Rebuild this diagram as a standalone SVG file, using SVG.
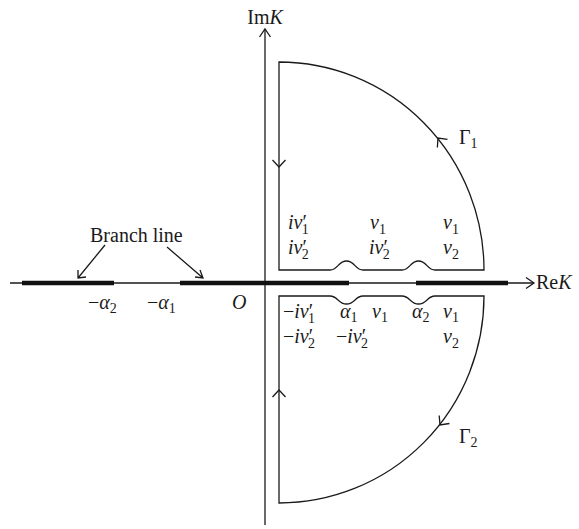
<svg xmlns="http://www.w3.org/2000/svg" width="579" height="529" viewBox="0 0 579 529">
<style>
.t{font-family:"Liberation Serif","DejaVu Serif",serif;font-size:20px;fill:#1a1a1a}
.i{font-style:italic}
.s{font-size:14px;font-style:normal}
.ln{fill:none;stroke:#1a1a1a;stroke-width:1.3}
.thick{fill:none;stroke:#111;stroke-width:4.5}
</style>
<defs>
<path id="chev" d="M-6.5,-7 L0,0 L6.5,-7" fill="none" stroke="#1a1a1a" stroke-width="1.3"/>
</defs>
<g id="connectors">
<path class="ln" d="M10,283 H534"/>
<path class="ln" d="M526,277.5 L534,283 L526,288.5"/>
<path class="ln" d="M265,525 V29"/>
<path class="ln" d="M259.5,37 L265,29 L270.5,37"/>
<path class="thick" d="M22,283 H114 M180,283 H349 M416,283 H508"/>
<path class="ln" d="M105,245 L78,278 M78,270 L78,278 L86,277"/>
<path class="ln" d="M167,247 L203,278 M195,277 L203,278 L200,270"/>
</g>
<g id="contour1">
<path class="ln" d="M279,62 A205,208 0 0 1 484,270 H435 C427,270 427,261 418.5,261 C410,261 410,270 402,270 H363 C355,270 355,261 346.5,261 C338,261 338,270 330,270 H279 Z"/>
<use href="#chev" transform="translate(279,167)"/>
<use href="#chev" transform="translate(438,138) rotate(141)"/>
</g>
<g id="contour2">
<path class="ln" d="M279,296 H330 C338,296 338,304 346.5,304 C355,304 355,296 363,296 H402 C410,296 410,304 418.5,304 C427,304 427,296 435,296 H484 A205,207 0 0 1 279,503 Z"/>
<use href="#chev" transform="translate(279,390) rotate(180)"/>
<use href="#chev" transform="translate(440,425) rotate(38)"/>
</g>
<g id="labels">
<text class="t" x="265" y="24" text-anchor="middle">Im<tspan class="i">K</tspan></text>
<text class="t" x="536" y="289">Re<tspan class="i">K</tspan></text>
<text class="t" x="90" y="242">Branch line</text>
<text class="t" x="88" y="309">−<tspan class="i">α</tspan><tspan class="s" dy="4">2</tspan></text>
<text class="t" x="147" y="309">−<tspan class="i">α</tspan><tspan class="s" dy="4">1</tspan></text>
<text class="t i" x="232" y="309">O</text>
<text class="t" x="459" y="144">Γ<tspan class="s" dy="4">1</tspan></text>
<text class="t" x="459" y="443">Γ<tspan class="s" dy="4">2</tspan></text>
<text class="t" x="288" y="229"><tspan class="i">iv</tspan>′<tspan class="s" dx="-5" dy="5">1</tspan></text>
<text class="t" x="370" y="229"><tspan class="i">v</tspan><tspan class="s" dy="5">1</tspan></text>
<text class="t" x="443" y="229"><tspan class="i">v</tspan><tspan class="s" dy="5">1</tspan></text>
<text class="t" x="288" y="254"><tspan class="i">iv</tspan>′<tspan class="s" dx="-5" dy="5">2</tspan></text>
<text class="t" x="369" y="254"><tspan class="i">iv</tspan>′<tspan class="s" dx="-5" dy="5">2</tspan></text>
<text class="t" x="443" y="254"><tspan class="i">v</tspan><tspan class="s" dy="5">2</tspan></text>
<text class="t" x="283" y="318">−<tspan class="i">iv</tspan>′<tspan class="s" dx="-5" dy="5">1</tspan></text>
<text class="t" x="340" y="318"><tspan class="i">α</tspan><tspan class="s" dy="4">1</tspan></text>
<text class="t" x="372" y="318"><tspan class="i">v</tspan><tspan class="s" dy="4">1</tspan></text>
<text class="t" x="412" y="318"><tspan class="i">α</tspan><tspan class="s" dy="4">2</tspan></text>
<text class="t" x="443" y="318"><tspan class="i">v</tspan><tspan class="s" dy="4">1</tspan></text>
<text class="t" x="283" y="343">−<tspan class="i">iv</tspan>′<tspan class="s" dx="-5" dy="5">2</tspan></text>
<text class="t" x="336" y="343">−<tspan class="i">iv</tspan>′<tspan class="s" dx="-5" dy="5">2</tspan></text>
<text class="t" x="443" y="343"><tspan class="i">v</tspan><tspan class="s" dy="5">2</tspan></text>
</g>
</svg>
